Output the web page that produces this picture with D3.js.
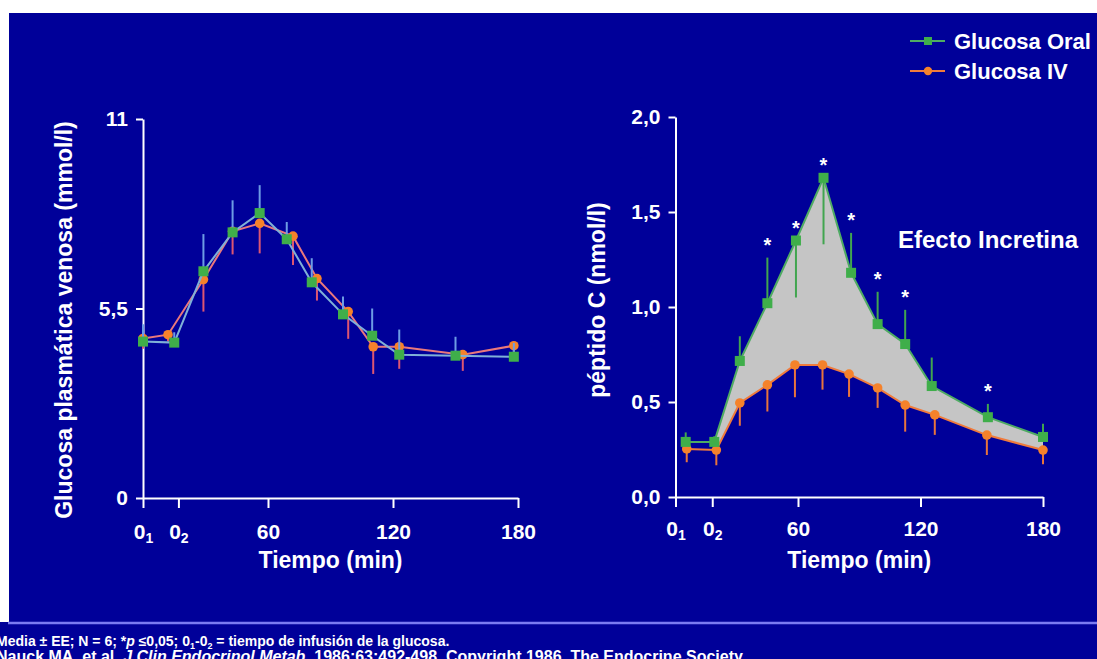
<!DOCTYPE html>
<html>
<head>
<meta charset="utf-8">
<script src="https://cdn.jsdelivr.net/npm/d3@7"></script>
<style>
  html, body { margin: 0; padding: 0; background: #fff; }
  svg { display: block; }
</style>
</head>
<body>
<svg id="chart" width="1097" height="659"></svg>
<script>
// ---- Time axis (minutes). "0_1" and "0_2" mark start / end of the glucose infusion
const timeTickLabels = ["0_1", "0_2", "60", "120", "180"];
const glucoseTimeTicks = [0, 17, 60, 120, 180];
const peptideTimeTicks = [0, 18, 60, 120, 180];

// ---- Value axes
const glucoseTicks = [0, 5.5, 11];
const glucoseTickLabels = ["0", "5,5", "11"];
const peptideTicks = [0, 0.5, 1.0, 1.5, 2.0];
const peptideTickLabels = ["0,0", "0,5", "1,0", "1,5", "2,0"];

// ---- Venous plasma glucose (mmol/l): mean and SE
const glucoseOralTime = [0, 15, 29, 43, 56, 69, 81, 96, 110, 123, 150, 178];
const glucoseOral     = [4.54, 4.51, 6.58, 7.71, 8.27, 7.51, 6.26, 5.33, 4.71, 4.16, 4.13, 4.10];
const glucoseOralSE   = [0.50, 0.30, 1.08, 0.93, 0.81, 0.50, 0.70, 0.52, 0.79, 0.73, 0.55, 0.40];

const glucoseIVTime = [0, 12, 29, 43, 56, 72, 83.5, 98.5, 110.5, 123, 153.5, 178];
const glucoseIV     = [4.63, 4.74, 6.34, 7.74, 7.97, 7.60, 6.37, 5.41, 4.39, 4.39, 4.16, 4.42];
const glucoseIVSE   = [0.30, 0.20, 0.93, 0.67, 0.87, 0.84, 0.64, 0.79, 0.79, 0.64, 0.47, 0.20];

// ---- C-peptide (nmol/l): mean and SE; side = direction the SE bar is drawn
const peptideOralTime = [5, 19, 31.5, 45, 59, 72.5, 86, 99, 112.5, 125.5, 153, 180];
const peptideOral     = [0.29, 0.29, 0.716, 1.02, 1.35, 1.68, 1.18, 0.91, 0.805, 0.584, 0.42, 0.316];
const peptideOralSE   = [0.05, 0.03, 0.13, 0.24, 0.30, 0.35, 0.21, 0.17, 0.18, 0.15, 0.07, 0.07];
const peptideOralSide = [1, 1, 1, 1, -1, -1, 1, 1, 1, 1, 1, 1];
const peptideOralSig  = [0, 0, 0, 1, 1, 1, 1, 1, 1, 0, 1, 0];   // * p <= 0,05

const peptideIVTime = [5.5, 20, 31.5, 45, 58.5, 72, 85, 99, 112.5, 127, 152.5, 180];
const peptideIV     = [0.253, 0.247, 0.495, 0.59, 0.695, 0.695, 0.647, 0.574, 0.484, 0.432, 0.326, 0.247];
const peptideIVSE   = [0.07, 0.08, 0.12, 0.14, 0.17, 0.13, 0.12, 0.105, 0.14, 0.105, 0.105, 0.074];

const seriesNames = ["Glucosa Oral", "Glucosa IV"];

// ---- Styling
const FONT = "'Liberation Sans', Arial, Helvetica, sans-serif";
const BG = "#000099";
const GREEN = "#3fae4a";
const ORANGE = "#f5822b";
const FILL = "#c5c5c5";

const svg = d3.select("#chart");

// slide background with white margin on top/left, and footer band
svg.append("rect").attr("width", 1097).attr("height", 659).attr("fill", "#fff");
svg.append("rect").attr("x", 9).attr("y", 13).attr("width", 1088).attr("height", 610).attr("fill", BG);
svg.append("rect").attr("x", 0).attr("y", 622).attr("width", 1097).attr("height", 37).attr("fill", BG);
svg.append("line").attr("x1", 8).attr("x2", 1097).attr("y1", 623).attr("y2", 623)
  .attr("stroke", "#7b7bf2").attr("stroke-width", 2.5);

function styleAxis(sel) {
  sel.attr("font-family", FONT).attr("font-size", 21).attr("font-weight", "bold").attr("color", "#fff");
  sel.selectAll(".domain, .tick line").attr("stroke", "#fff").attr("stroke-width", 2);
}

function subscriptLabels(sel) {
  sel.selectAll(".tick text").each(function () {
    const t = d3.select(this);
    const s = t.text();
    if (s.includes("_")) {
      const [base, sub] = s.split("_");
      t.text(null);
      t.append("tspan").text(base);
      t.append("tspan").attr("font-size", 14).attr("dy", "0.3em").text(sub);
    }
  });
}

function drawPanel(p) {
  const x = d3.scaleLinear().domain([0, 180]).range(p.xRange);
  const y = d3.scaleLinear().domain(p.yDomain).range(p.yRange);
  const g = svg.append("g");

  // shaded difference between the two curves (incretin effect)
  if (p.fill) {
    const [top, bottom] = p.fill;
    const pts = [];
    for (let i = 1; i < top.time.length; i++) pts.push([x(top.time[i]), y(top.value[i])]);
    for (let i = bottom.time.length - 1; i >= 1; i--) pts.push([x(bottom.time[i]), y(bottom.value[i])]);
    g.append("path").attr("d", d3.line()(pts) + "Z").attr("fill", FILL);
  }

  // axes
  const yAxis = d3.axisLeft(y).tickValues(p.yTicks).tickFormat((d, i) => p.yLabels[i])
    .tickSize(7).tickSizeOuter(0).tickPadding(8);
  g.append("g").attr("transform", `translate(${p.xRange[0]},0)`).call(yAxis).call(styleAxis);

  const xAxis = d3.axisBottom(x).tickValues(p.xTicks).tickFormat((d, i) => timeTickLabels[i])
    .tickSize(10).tickSizeOuter(0).tickPadding(p.xPad);
  g.append("g").attr("transform", `translate(0,${p.yRange[0]})`).call(xAxis).call(styleAxis).call(subscriptLabels);

  // axis titles
  g.append("text").attr("x", (p.xRange[0] + p.xRange[1]) / 2).attr("y", 568)
    .attr("text-anchor", "middle").attr("font-family", FONT).attr("font-size", 23)
    .attr("font-weight", "bold").attr("fill", "#fff").text("Tiempo (min)");
  g.append("text").attr("transform", `translate(${p.titleX},${p.titleY}) rotate(-90)`)
    .attr("text-anchor", "middle").attr("font-family", FONT).attr("font-size", 23)
    .attr("font-weight", "bold").attr("fill", "#fff").text(p.title);

  // series
  p.series.forEach(s => {
    const idx = d3.range(s.time.length);
    g.append("path")
      .attr("d", d3.line().x(i => x(s.time[i])).y(i => y(s.value[i]))(idx))
      .attr("fill", "none").attr("stroke", s.lineColor).attr("stroke-width", 2);
    g.selectAll(null).data(idx).join("line")
      .attr("x1", i => x(s.time[i])).attr("x2", i => x(s.time[i]))
      .attr("y1", i => y(s.value[i]))
      .attr("y2", i => y(s.value[i] + (s.side ? s.side[i] : 1) * s.se[i]))
      .attr("stroke", s.barColor).attr("stroke-width", 2);
    if (s.marker === "square") {
      g.selectAll(null).data(idx).join("rect")
        .attr("x", i => x(s.time[i]) - 5).attr("y", i => y(s.value[i]) - 5)
        .attr("width", 10).attr("height", 10).attr("fill", GREEN);
    } else {
      g.selectAll(null).data(idx).join("circle")
        .attr("cx", i => x(s.time[i])).attr("cy", i => y(s.value[i]))
        .attr("r", 4.8).attr("fill", ORANGE);
    }
    if (s.sig) {
      g.selectAll(null).data(idx.filter(i => s.sig[i])).join("text")
        .attr("x", i => x(s.time[i]))
        .attr("y", i => y(s.value[i] + (s.side[i] > 0 ? s.se[i] : 0)) - 6)
        .attr("text-anchor", "middle").attr("font-family", FONT).attr("font-size", 20)
        .attr("font-weight", "bold").attr("fill", "#fff").text("*");
    }
  });
  return { x, y, g };
}

// ---- Left panel: plasma glucose
drawPanel({
  xRange: [143, 518], yRange: [498, 119], yDomain: [0, 11],
  yTicks: glucoseTicks, yLabels: glucoseTickLabels, xTicks: glucoseTimeTicks, xPad: 16,
  title: "Glucosa plasmática venosa (mmol/l)", titleX: 72, titleY: 320,
  series: [
    { time: glucoseIVTime, value: glucoseIV, se: glucoseIVSE.map(v => -v), marker: "circle",
      lineColor: "#e9787c", barColor: "#dc5672" },
    { time: glucoseOralTime, value: glucoseOral, se: glucoseOralSE, marker: "square",
      lineColor: "#7fb0d8", barColor: "#6d9ce4" }
  ]
});

// ---- Right panel: C-peptide
const oralPeptide = { time: peptideOralTime, value: peptideOral, se: peptideOralSE, side: peptideOralSide,
  sig: peptideOralSig, marker: "square", lineColor: "#4fab63", barColor: "#41a54f" };
const ivPeptide = { time: peptideIVTime, value: peptideIV, se: peptideIVSE.map(v => -v), marker: "circle",
  lineColor: "#f07b3c", barColor: "#e8743c" };

drawPanel({
  xRange: [675.5, 1043], yRange: [497, 117], yDomain: [0, 2],
  yTicks: peptideTicks, yLabels: peptideTickLabels, xTicks: peptideTimeTicks, xPad: 14,
  title: "péptido C (nmol/l)", titleX: 605, titleY: 300,
  fill: [oralPeptide, ivPeptide],
  series: [ivPeptide, oralPeptide]
});

svg.append("text").attr("x", 898).attr("y", 248)
  .attr("font-family", FONT).attr("font-size", 24).attr("font-weight", "bold").attr("fill", "#fff")
  .text("Efecto Incretina");

// ---- Legend
const legend = svg.append("g").attr("font-family", FONT).attr("font-weight", "bold");
seriesNames.forEach((name, i) => {
  const ly = 41 + i * 30;
  const col = i === 0 ? GREEN : ORANGE;
  legend.append("line").attr("x1", 910).attr("x2", 945).attr("y1", ly).attr("y2", ly)
    .attr("stroke", i === 0 ? "#4fab63" : "#f07b3c").attr("stroke-width", 2);
  if (i === 0) legend.append("rect").attr("x", 924).attr("y", ly - 4).attr("width", 8).attr("height", 8).attr("fill", col);
  else legend.append("circle").attr("cx", 928).attr("cy", ly).attr("r", 4.2).attr("fill", col);
  legend.append("text").attr("x", 954).attr("y", ly + 8).attr("font-size", 22).attr("fill", "#fff").text(name);
});

// ---- Footer notes
const foot = svg.append("g").attr("font-family", FONT).attr("font-weight", "bold").attr("fill", "#fff");
const f1 = foot.append("text").attr("x", -4).attr("y", 646).attr("font-size", 14);
f1.append("tspan").text("Media ± EE; N = 6; *");
f1.append("tspan").attr("font-style", "italic").text("p");
f1.append("tspan").text(" ≤0,05; 0");
f1.append("tspan").attr("font-size", 9).attr("dy", 3).text("1");
f1.append("tspan").attr("dy", -3).text("-0");
f1.append("tspan").attr("font-size", 9).attr("dy", 3).text("2");
f1.append("tspan").attr("dy", -3).text(" = tiempo de infusión de la glucosa.");
const f2 = foot.append("text").attr("x", -4).attr("y", 662).attr("font-size", 16);
f2.append("tspan").text("Nauck MA, et al. ");
f2.append("tspan").attr("font-style", "italic").text("J Clin Endocrinol Metab");
f2.append("tspan").text(". 1986;63:492-498. Copyright 1986. The Endocrine Society.");
</script>
</body>
</html>
